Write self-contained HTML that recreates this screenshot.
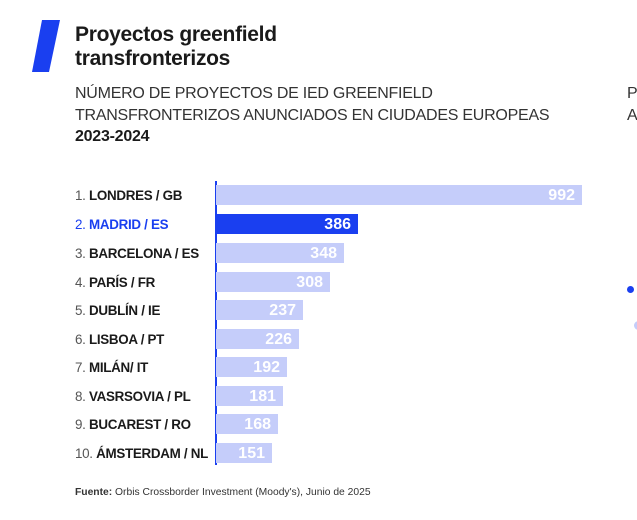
<!DOCTYPE html>
<html><head><meta charset="utf-8"><style>
body{margin:0;width:637px;height:520px;background:#fff;font-family:"Liberation Sans",Arial,sans-serif;position:relative;overflow:hidden;color:#1a1a1a}
.t{position:absolute;left:75px;top:23px;font-size:21px;font-weight:bold;line-height:24px;letter-spacing:-0.3px}
.s{position:absolute;left:75px;top:83px;font-size:16px;line-height:21.5px;color:#333;letter-spacing:-0.25px}
.s2{position:absolute;left:627px;top:83px;font-size:16px;line-height:21.5px;color:#333}
.lab{position:absolute;left:75px;font-size:13.4px;height:20px;line-height:22px;white-space:nowrap;letter-spacing:-0.3px}
.lab span{color:#555;font-weight:normal}
.lab b{font-weight:bold;color:#1a1a1a}
.bar{position:absolute;left:216px;height:20px;background:#c5cdfa;color:#fff;font-weight:bold;font-size:16px;line-height:21px;text-align:right;box-sizing:border-box;padding-right:7px}
.ax{position:absolute;left:215px;top:181px;width:1.5px;height:284px;background:#1a3ff0}
.f{position:absolute;left:75px;top:487px;font-size:10.3px;color:#333}
</style></head><body>
<svg style="position:absolute;left:0;top:0" width="80" height="80"><polygon points="42,20 60,20 49,72 32,72" fill="#1a3ff0"/></svg>
<div class="t">Proyectos greenfield<br>transfronterizos</div>
<div class="s">NÚMERO DE PROYECTOS DE IED GREENFIELD<br>TRANSFRONTERIZOS ANUNCIADOS EN CIUDADES EUROPEAS<br><b style="color:#1a1a1a">2023-2024</b></div>
<div class="s2">P<br>A</div>
<div style="position:absolute;left:627px;top:286px;width:7px;height:7px;border-radius:50%;background:#1a3ff0"></div>
<div style="position:absolute;left:634px;top:321px;width:9px;height:9px;border-radius:50%;background:#c5cdfa"></div>
<div class="ax"></div>

<div class="lab" style="top:185px"><span>1. </span><b>LONDRES / GB</b></div>
<div class="bar" style="top:185px;width:366px">992</div>
<div class="lab" style="top:214px;color:#1a3ff0"><span style="color:#1a3ff0">2. </span><b style="color:#1a3ff0">MADRID / ES</b></div>
<div class="bar" style="top:214px;width:142px;background:#1a3ff0">386</div>
<div class="lab" style="top:243px"><span>3. </span><b>BARCELONA / ES</b></div>
<div class="bar" style="top:243px;width:128px">348</div>
<div class="lab" style="top:272px"><span>4. </span><b>PARÍS / FR</b></div>
<div class="bar" style="top:272px;width:114px">308</div>
<div class="lab" style="top:300px"><span>5. </span><b>DUBLÍN / IE</b></div>
<div class="bar" style="top:300px;width:87px">237</div>
<div class="lab" style="top:329px"><span>6. </span><b>LISBOA / PT</b></div>
<div class="bar" style="top:329px;width:83px">226</div>
<div class="lab" style="top:357px"><span>7. </span><b>MILÁN/ IT</b></div>
<div class="bar" style="top:357px;width:71px">192</div>
<div class="lab" style="top:386px"><span>8. </span><b>VASRSOVIA / PL</b></div>
<div class="bar" style="top:386px;width:67px">181</div>
<div class="lab" style="top:414px"><span>9. </span><b>BUCAREST / RO</b></div>
<div class="bar" style="top:414px;width:62px">168</div>
<div class="lab" style="top:443px"><span>10. </span><b>ÁMSTERDAM / NL</b></div>
<div class="bar" style="top:443px;width:56px">151</div>

<div class="f"><b>Fuente:</b> Orbis Crossborder Investment (Moody's), Junio de 2025</div>
</body></html>
